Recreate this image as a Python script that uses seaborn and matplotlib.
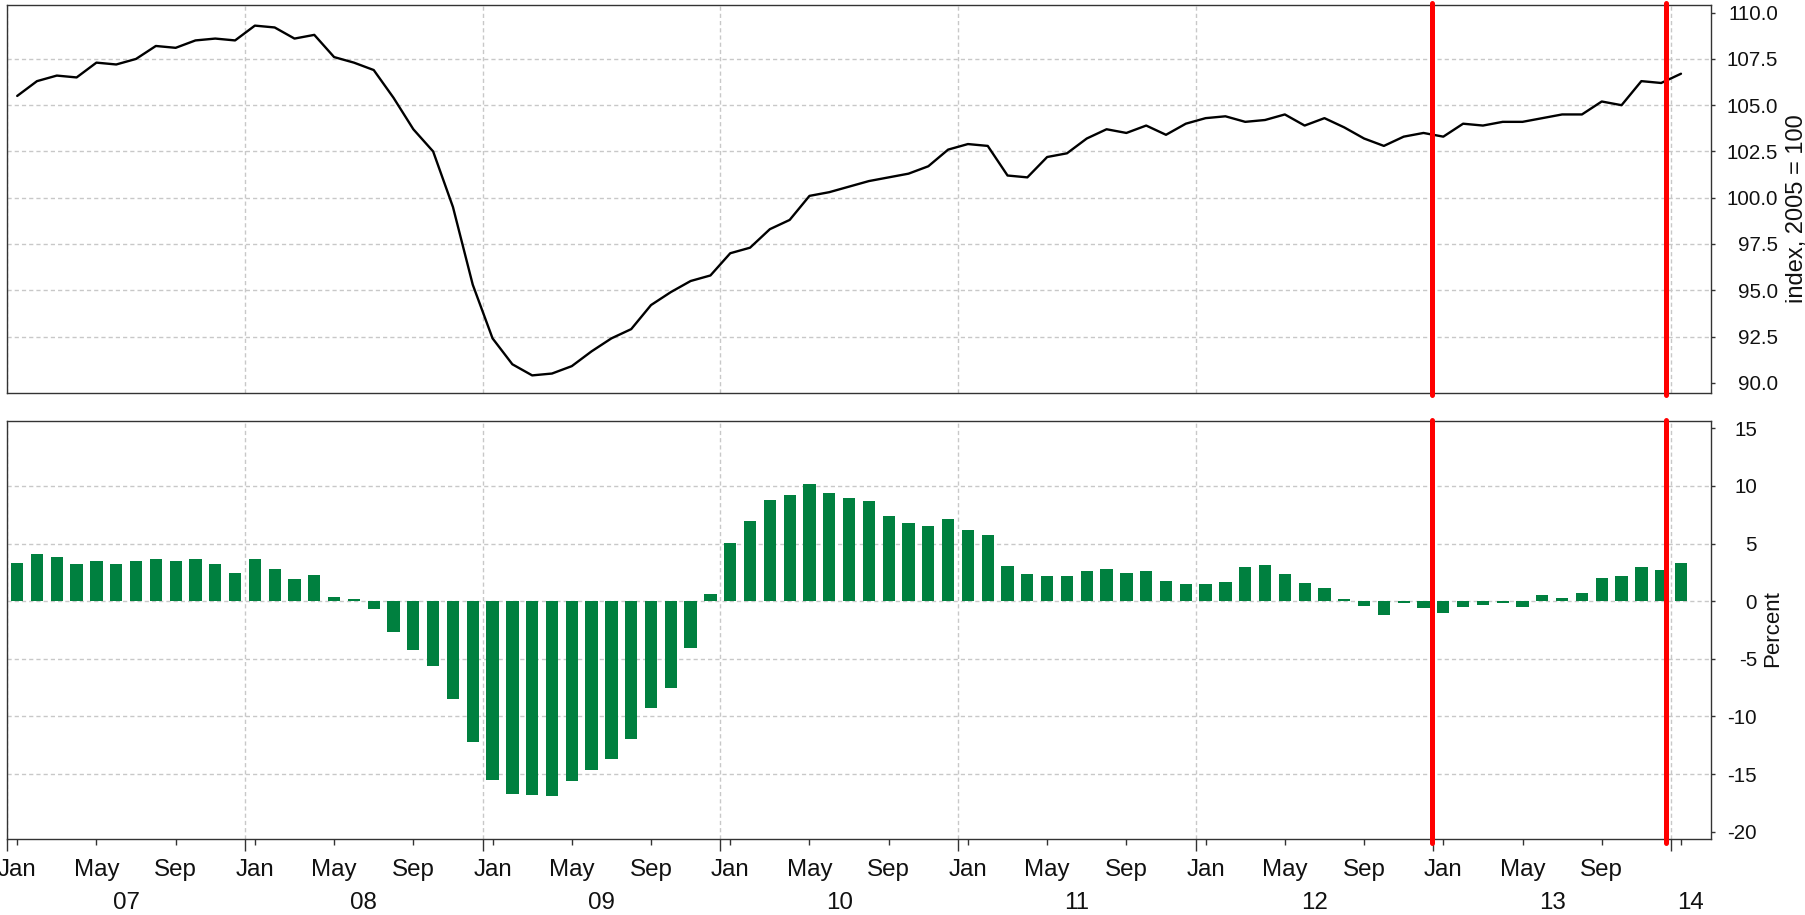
import numpy as np
import pandas as pd
import matplotlib
matplotlib.use("Agg")
import matplotlib.pyplot as plt
import matplotlib.transforms as mtransforms
import seaborn as sns

# ---------------- data (monthly, Jan 2007 .. Jan 2014) ----------------
index_2005 = [
    105.5, 106.3, 106.6, 106.5, 107.3, 107.2, 107.5, 108.2, 108.1, 108.5, 108.6, 108.5,
    109.3, 109.2, 108.6, 108.8, 107.6, 107.3, 106.9, 105.4, 103.7, 102.5, 99.5, 95.3,
    92.4, 91.0, 90.4, 90.5, 90.9, 91.7, 92.4, 92.9, 94.2, 94.9, 95.5, 95.8,
    97.0, 97.3, 98.3, 98.8, 100.1, 100.3, 100.6, 100.9, 101.1, 101.3, 101.7, 102.6,
    102.9, 102.8, 101.2, 101.1, 102.2, 102.4, 103.2, 103.7, 103.5, 103.9, 103.4, 104.0,
    104.3, 104.4, 104.1, 104.2, 104.5, 103.9, 104.3, 103.8, 103.2, 102.8, 103.3, 103.5,
    103.3, 104.0, 103.9, 104.1, 104.1, 104.3, 104.5, 104.5, 105.2, 105.0, 106.3, 106.2,
    106.7,
]
yoy_pct = [
    3.3, 4.1, 3.8, 3.2, 3.5, 3.2, 3.5, 3.7, 3.5, 3.7, 3.2, 2.45,
    3.65, 2.8, 1.95, 2.25, 0.35, 0.17, -0.7, -2.7, -4.2, -5.65, -8.5, -12.25,
    -15.55, -16.75, -16.85, -16.9, -15.6, -14.6, -13.7, -11.95, -9.3, -7.5, -4.1, 0.6,
    5.05, 6.95, 8.8, 9.2, 10.2, 9.4, 8.95, 8.65, 7.4, 6.8, 6.55, 7.15,
    6.15, 5.7, 3.05, 2.4, 2.15, 2.15, 2.65, 2.8, 2.45, 2.65, 1.75, 1.45,
    1.45, 1.65, 2.95, 3.15, 2.35, 1.55, 1.15, 0.17, -0.4, -1.2, -0.2, -0.6,
    -1.05, -0.5, -0.3, -0.15, -0.5, 0.5, 0.25, 0.75, 2.0, 2.2, 3.0, 2.7,
    3.35,
]
month_tick_labels = ["Jan", "May", "Sep"]
year_labels = ["07", "08", "09", "10", "11", "12", "13", "14"]
marker_months = [71.43, 83.24]          # red vertical markers (month index)
index_ticks = [90.0, 92.5, 95.0, 97.5, 100.0, 102.5, 105.0, 107.5, 110.0]
pct_ticks = [-20, -15, -10, -5, 0, 5, 10, 15]

df = pd.DataFrame({"m": np.arange(len(index_2005)), "index": index_2005, "yoy": yoy_pct})

# ---------------- style ----------------
sns.set_theme(style="white")
plt.rcParams["font.family"] = ["Liberation Sans", "DejaVu Sans"]
plt.rcParams["axes.unicode_minus"] = False

GRID = dict(color="#c8c8c8", linestyle=(0, (3, 2.2)), linewidth=1.0)
SPINE = "#333333"
GREEN = "#00803f"
RED = "#ff0000"
TXT = "#111111"
DPI = 100

fig = plt.figure(figsize=(18.05, 9.15), dpi=DPI)
ax1 = fig.add_axes([0.00404, 0.57093, 0.94371, 0.42393])
ax2 = fig.add_axes([0.00404, 0.08273, 0.94371, 0.45683])

sns.lineplot(data=df, x="m", y="index", ax=ax1, color="black", linewidth=1.7, zorder=3)
sns.barplot(data=df, x="m", y="yoy", ax=ax2, native_scale=True, width=0.62,
            color=GREEN, saturation=1, edgecolor="none", errorbar=None, zorder=3)

n = len(index_2005)
xlim = (-0.5, n + 0.5)
major_x = np.arange(-0.5, n, 12)
minor_x = np.arange(0, n, 4)

for ax in (ax1, ax2):
    ax.set_xlim(*xlim)
    ax.set_xlabel("")
    ax.set_xticks(major_x)
    ax.set_xticks(minor_x, minor=True)
    ax.yaxis.tick_right()
    ax.yaxis.set_label_position("right")
    for s in ax.spines.values():
        s.set_visible(True)
        s.set_color(SPINE)
        s.set_linewidth(1.0)
    ax.grid(True, axis="x", which="major", **GRID)
    ax.grid(True, axis="y", which="major", **GRID)
    ax.set_axisbelow(True)

YT_SIZE = 14.8

# top panel
ax1.set_ylim(89.47, 110.43)
ax1.set_yticks(index_ticks)
ax1.set_yticklabels([f"{v:.1f}" for v in index_ticks])
ax1.tick_params(axis="x", which="both", bottom=False, labelbottom=False)
ax1.tick_params(axis="y", which="major", right=True, left=False, length=3, width=1,
                color=SPINE, labelsize=YT_SIZE, pad=46, labelcolor=TXT)
ax1.set_ylabel("index, 2005 = 100", fontsize=17, color=TXT)
ax1.yaxis.set_label_coords(1.0442, 0.473)

# bottom panel
ax2.set_ylim(-20.65, 15.6)
ax2.set_yticks(pct_ticks)
ax2.set_yticklabels([str(v) for v in pct_ticks])
ax2.set_xticklabels([])
ax2.set_xticklabels([month_tick_labels[i % 3] if x < major_x[-1] else ""
                     for i, x in enumerate(minor_x)], minor=True)
ax2.tick_params(axis="x", which="major", bottom=True, length=8.9, width=1, color=SPINE,
                direction="out")
ax2.tick_params(axis="x", which="minor", bottom=True, length=4.1, width=1, color=SPINE,
                direction="out", labelsize=17.4, pad=10, labelcolor=TXT)
ax2.tick_params(axis="y", which="major", right=True, left=False, length=3, width=1,
                color=SPINE, labelsize=YT_SIZE, pad=31, labelcolor=TXT)
ax2.set_ylabel("Percent", fontsize=16, color=TXT)
ax2.yaxis.set_label_coords(1.030, 0.503)

# hide gridlines at the outermost y ticks
for ax in (ax1, ax2):
    gl = ax.yaxis.get_gridlines()
    gl[0].set_visible(False)
    gl[-1].set_visible(False)

# year labels centred under the visible part of each year
trans = mtransforms.blended_transform_factory(ax2.transData, ax2.transAxes)
for i, lab in enumerate(year_labels):
    lo = max(12 * i - 0.5, xlim[0])
    hi = min(12 * i + 11.5, xlim[1])
    ax2.text((lo + hi) / 2, -0.1667, lab, transform=trans, ha="center", va="baseline",
             fontsize=17.4, color=TXT)

# red markers
for xm in marker_months:
    ax1.axvline(xm, ymin=-0.005, ymax=1.004, color=RED, linewidth=3.6, clip_on=False, zorder=6)
    ax2.axvline(xm, ymin=-0.0096, ymax=1.004, color=RED, linewidth=3.6, clip_on=False, zorder=6)

# right-align the y tick labels so their right edge sits where the reference has it
fig.canvas.draw()
renderer = fig.canvas.get_renderer()
for ax, target_right in ((ax1, 1778.0), (ax2, 1757.0)):
    labs = [t for t in ax.get_yticklabels() if t.get_text()]
    for t in labs:
        t.set_horizontalalignment("right")
    fig.canvas.draw()
    right = max(t.get_window_extent(renderer).x1 for t in labs)
    cur_pad = ax.yaxis.get_major_ticks()[0].get_pad()
    ax.tick_params(axis="y", which="major", pad=cur_pad + (target_right - right) * 72.0 / DPI)
    for t in ax.get_yticklabels():
        t.set_horizontalalignment("right")

fig.savefig("out.png", dpi=DPI)
